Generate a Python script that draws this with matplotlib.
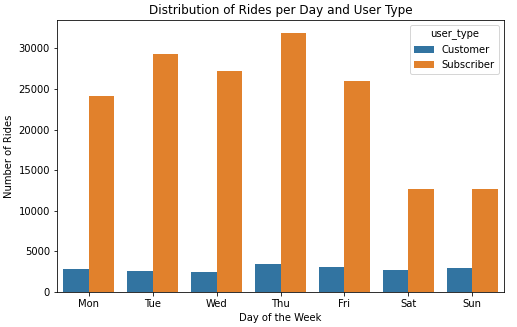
import pandas as pd
import seaborn as sns
import matplotlib.pyplot as plt

days = ['Mon', 'Tue', 'Wed', 'Thu', 'Fri', 'Sat', 'Sun']
customer = [2860, 2620, 2500, 3480, 3100, 2740, 2990]
subscriber = [24100, 29300, 27200, 31900, 25950, 12700, 12700]

df = pd.DataFrame({
    'day': days * 2,
    'user_type': ['Customer'] * len(days) + ['Subscriber'] * len(days),
    'rides': customer + subscriber,
})

fig = plt.figure(figsize=(517 / 72, 327 / 72), dpi=72)
ax = fig.add_axes([57 / 517, 1 - 292 / 327, 447 / 517, 272 / 327])
# muted versions of the default blue/orange
sns.barplot(data=df, x='day', y='rides', hue='user_type', order=days,
            palette=['#3274a1', '#e1812c'], saturation=1, ax=ax)
ax.set_title('Distribution of Rides per Day and User Type', fontsize=12)
ax.set_xlabel('Day of the Week')
ax.set_ylabel('Number of Rides')
ax.legend(title='user_type', loc='upper right')
fig.savefig('out.png', dpi=72)
